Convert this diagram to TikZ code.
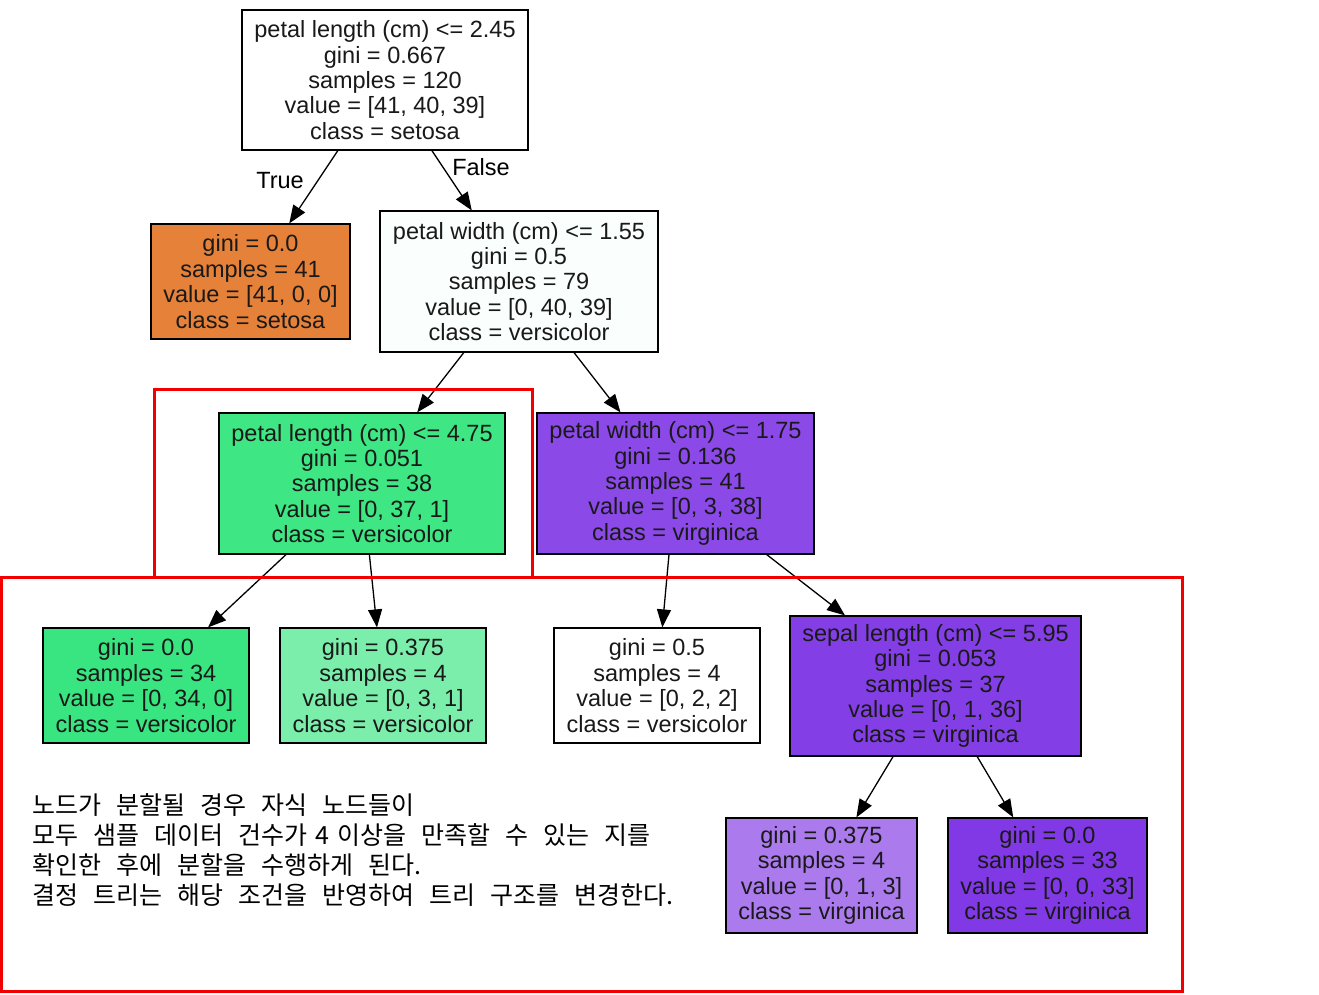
\documentclass[tikz,border=0pt]{standalone}
\usepackage{fontspec}
\setmainfont{Liberation Sans}
\newfontfamily\kofont{Noto Sans CJK KR}
\usetikzlibrary{arrows.meta}
\definecolor{cSet}{HTML}{E58139}
\definecolor{cW1}{HTML}{FAFEFC}
\definecolor{cG1}{HTML}{3EE684}
\definecolor{cV1}{HTML}{8B49E7}
\definecolor{cG0}{HTML}{39E581}
\definecolor{cG2}{HTML}{7BEEAB}
\definecolor{cV2}{HTML}{843EE6}
\definecolor{cV3}{HTML}{AB7BEE}
\definecolor{cV0}{HTML}{8139E5}
\definecolor{redbox}{HTML}{F20000}
\newcommand{\kosp}{\spaceskip=15pt\relax}
\newcommand{\nsp}{{\spaceskip=8pt\relax\ }}
\tikzset{
  tnode/.style={draw=black, line width=1.2pt, rectangle, inner sep=0pt, align=center,
    font=\fontsize{23.5}{25.4}\selectfont, text=black!90},
  big/.style={minimum height=140pt},
  leaf/.style={minimum height=115pt},
  edge/.style={line width=1.3pt, -{Triangle[length=18pt,width=14pt]}},
  elabel/.style={font=\fontsize{23.5}{25.4}\selectfont, inner sep=0pt},
  kotext/.style={anchor=base west, inner sep=0pt, font=\kofont\fontsize{25}{30}\selectfont},
  hibox/.style={draw=redbox, line width=3pt}
}
\begin{document}
\begin{tikzpicture}[x=1pt,y=-1pt]
\useasboundingbox (0,0) rectangle (1319,994);
\fill[white] (0,0) rectangle (1319,994);

\node[tnode, big, minimum width=286pt, fill=white] (root) at (385,80)
  {petal length (cm) <= 2.45\\gini = 0.667\\samples = 120\\value = [41, 40, 39]\\class = setosa};
\node[tnode, leaf, minimum width=199pt, fill=cSet] (set) at (250.5,281.5)
  {gini = 0.0\\samples = 41\\value = [41, 0, 0]\\class = setosa};
\node[tnode, big, minimum width=278pt, minimum height=141pt, fill=cW1] (pwa) at (519,281.5)
  {petal width (cm) <= 1.55\\gini = 0.5\\samples = 79\\value = [0, 40, 39]\\class = versicolor};
\node[tnode, big, minimum width=286pt, minimum height=141pt, fill=cG1] (pl) at (362,483.5)
  {petal length (cm) <= 4.75\\gini = 0.051\\samples = 38\\value = [0, 37, 1]\\class = versicolor};
\node[tnode, big, minimum width=277pt, minimum height=141pt, fill=cV1] (pwb) at (675.5,483.5)
  {petal width (cm) <= 1.75\\gini = 0.136\\samples = 41\\value = [0, 3, 38]\\class = virginica};
\node[tnode, leaf, minimum width=206pt, fill=cG0] (la) at (146,685.5)
  {gini = 0.0\\samples = 34\\value = [0, 34, 0]\\class = versicolor};
\node[tnode, leaf, minimum width=206pt, fill=cG2] (lb) at (383,685.5)
  {gini = 0.375\\samples = 4\\value = [0, 3, 1]\\class = versicolor};
\node[tnode, leaf, minimum width=206pt, fill=white] (lc) at (657,685.5)
  {gini = 0.5\\samples = 4\\value = [0, 2, 2]\\class = versicolor};
\node[tnode, big, minimum width=291pt, fill=cV2] (sep) at (935.5,686)
  {sepal length (cm) <= 5.95\\gini = 0.053\\samples = 37\\value = [0, 1, 36]\\class = virginica};
\node[tnode, leaf, minimum width=191pt, fill=cV3] (ld) at (821.5,875.5)
  {gini = 0.375\\samples = 4\\value = [0, 1, 3]\\class = virginica};
\node[tnode, leaf, minimum width=199pt, fill=cV0] (le) at (1047.5,875.5)
  {gini = 0.0\\samples = 33\\value = [0, 0, 33]\\class = virginica};

\draw[edge] (root) -- (set);
\draw[edge] (root) -- (pwa);
\draw[edge] (pwa) -- (pl);
\draw[edge] (pwa) -- (pwb);
\draw[edge] (pl) -- (la);
\draw[edge] (pl) -- (lb);
\draw[edge] (pwb) -- (lc);
\draw[edge] (pwb) -- (sep);
\draw[edge] (sep) -- (ld);
\draw[edge] (sep) -- (le);

\node[elabel] (ltrue) at (280,181) {True};
\node[elabel] (lfalse) at (481,167) {False};

\node[kotext] (k1) at (32,814) {\kosp 노드가 분할될 경우 자식 노드들이};
\node[kotext] (k2) at (32,844) {\kosp 모두 샘플 데이터 건수가\nsp 4\nsp 이상을 만족할 수 있는 지를};
\node[kotext] (k3) at (32,874) {\kosp 확인한 후에 분할을 수행하게 된다.};
\node[kotext] (k4) at (32,904) {\kosp 결정 트리는 해당 조건을 반영하여 트리 구조를 변경한다.};

\draw[hibox] (154.5,389) rectangle (532.5,577.5);
\draw[hibox] (1.5,577.5) rectangle (1182.5,991.5);
\end{tikzpicture}
\end{document}
